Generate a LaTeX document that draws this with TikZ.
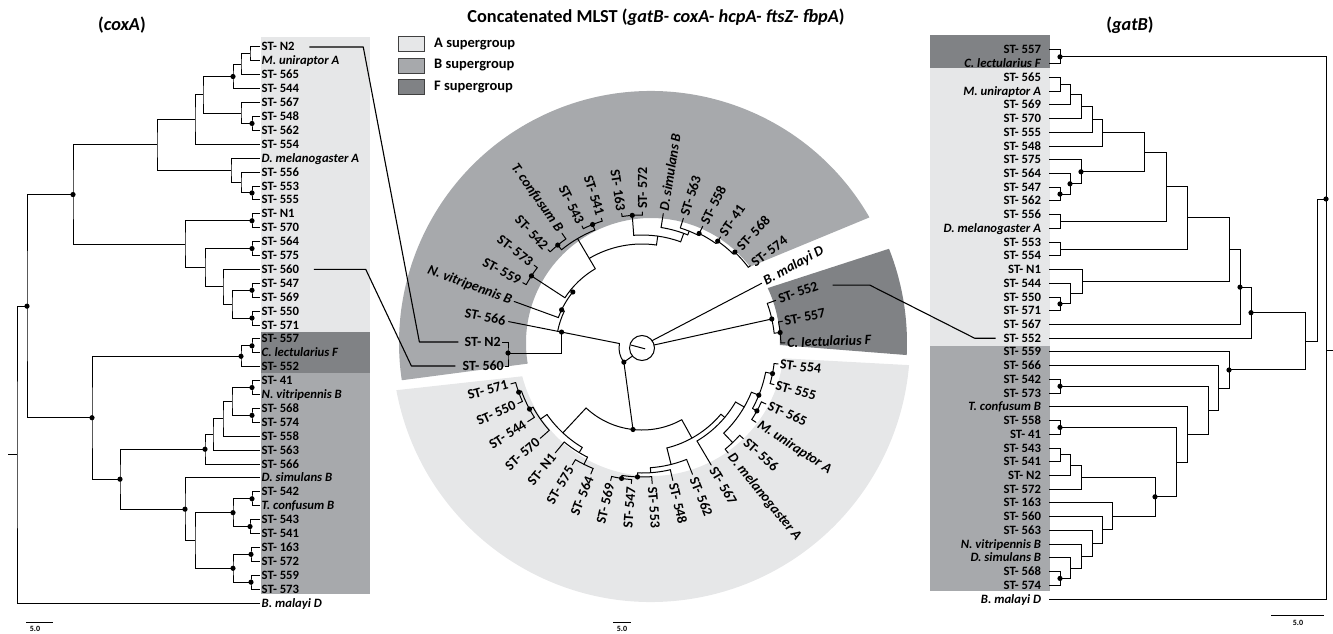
\documentclass[tikz,border=0pt]{standalone}
\usepackage{fontspec}
\setmainfont{Carlito}
\usetikzlibrary{calc}
\definecolor{grpA}{HTML}{E6E7E8}
\definecolor{grpB}{HTML}{A7A9AC}
\definecolor{grpF}{HTML}{808285}
% rectangular clade: name, x, child 1, child 2
\newcommand\clade[4]{%
  \path let \p1=($(#3)!.5!(#4)$) in coordinate (#1) at (#2pt,\y1);
  \draw[br] (#3) -| (#1) |- (#4);}
\newcommand\tdot[1]{\fill (#1) circle (2.6pt);}
% polar helpers round the centre C
\newcommand\parc[3]{\draw[cbr] ($(C)+(#1:#3pt)$) arc[start angle=#1, end angle=#2, radius=#3pt];}
\newcommand\prad[3]{\draw[cbr] ($(C)+(#1:#2pt)$) -- ($(C)+(#1:#3pt)$);}
\newcommand\pdot[2]{\fill ($(C)+(#1:#2pt)$) circle (2.6pt);}

\begin{document}
\begin{tikzpicture}[x=1pt,y=-1pt,
  br/.style={line width=1pt},
  cbr/.style={line width=1pt,line cap=round},
  link/.style={line width=1.1pt,line join=round},
  lleaf/.style={anchor=west,inner xsep=1.5pt,inner ysep=0pt,text height=9.5pt,text depth=1.5pt,
                font=\fontsize{12.7}{13}\selectfont\bfseries},
  rleaf/.style={anchor=east,inner xsep=1pt,outer xsep=7pt,inner ysep=0pt,text height=9.5pt,text depth=1.5pt,
                font=\fontsize{12.7}{13}\selectfont\bfseries},
  clab/.style={inner sep=1pt,font=\fontsize{14}{14}\selectfont\bfseries},
  ttl/.style={inner sep=0pt,font=\fontsize{18.3}{20}\selectfont\bfseries},
  legbox/.style={draw=black!75,line width=0.6pt,minimum width=26pt,minimum height=15pt,inner sep=0pt},
  legtxt/.style={anchor=west,inner sep=0pt,font=\fontsize{14.5}{15}\selectfont\bfseries},
  sbar/.style={inner sep=0pt,font=\fontsize{8}{8}\selectfont\bfseries}
]
\useasboundingbox (0,0) rectangle (1333,634);

% ---------- titles and legend
\node[ttl] (tcox) at (122,25) {(\textit{coxA})};
\node[ttl] (tgat) at (1130,25) {(\textit{gatB})};
\node[ttl] (tmlst) at (656,17) {Concatenated MLST (\textit{gatB- coxA- hcpA- ftsZ- fbpA})};
\foreach \g/\lab/\yy in {grpA/A supergroup/44, grpB/B supergroup/65.5, grpF/F supergroup/87}{
  \node[legbox,fill=\g] (k\g) at (411,\yy) {};
  \node[legtxt] (t\g) at (434,\yy) {\lab};
}

% ---------- background bands
\fill[grpA] (261,37) rectangle (370,332);
\fill[grpF] (261,332) rectangle (370,373);
\fill[grpB] (261,373) rectangle (370,594);
\fill[grpF] (930,35) rectangle (1050,68);
\fill[grpA] (930,68) rectangle (1050,346);
\fill[grpB] (930,346) rectangle (1050,591);
\coordinate (C) at (642,348);
\coordinate (O) at (651,343);
\fill[grpB] ($(O)+(29.9:252pt)$) arc[start angle=29.9,end angle=188.5,radius=252pt]
  -- ($(O)+(189.5:125pt)$) arc[start angle=189.5,end angle=37.6,radius=125pt] -- cycle;
\fill[grpF] ($(O)+(-2.7:256pt)$) arc[start angle=-2.7,end angle=21.6,radius=256pt]
  -- ($(O)+(25.2:129pt)$) arc[start angle=25.2,end angle=-0.9,radius=129pt] -- cycle;
\fill[grpA] ($(O)+(-169.5:259pt)$) arc[start angle=-169.5,end angle=-4.9,radius=259pt]
  -- ($(O)+(-6.6:133pt)$) arc[start angle=-6.6,end angle=-165.5,radius=133pt] -- cycle;

% ---------- coxA tree
\foreach \nm/\lab [count=\i] in {N2/ST- N2, Muni/\textit{M. uniraptor A}, 565/ST- 565, 544/ST- 544,
  567/ST- 567, 548/ST- 548, 562/ST- 562, 554/ST- 554, Dmel/\textit{D. melanogaster A}, 556/ST- 556,
  553/ST- 553, 555/ST- 555, N1/ST- N1, 570/ST- 570, 564/ST- 564, 575/ST- 575, 560/ST- 560,
  547/ST- 547, 569/ST- 569, 550/ST- 550, 571/ST- 571, 557/ST- 557, Clect/\textit{C. lectularius F},
  552/ST- 552, 41/ST- 41, Nvit/\textit{N. vitripennis B}, 568/ST- 568, 574/ST- 574, 558/ST- 558,
  563/ST- 563, 566/ST- 566, Dsim/\textit{D. simulans B}, 542/ST- 542, Tconf/\textit{T. confusum B},
  543/ST- 543, 541/ST- 541, 163/ST- 163, 572/ST- 572, 559/ST- 559, 573/ST- 573, Bmal/\textit{B. malayi D}}
  {\node[lleaf] (c\nm) at (260,{47+(\i-1)*13.9}) {\lab};}
\clade{n1}{250}{cN2}{cMuni}
\clade{n2}{241}{n1}{c565}
\clade{n3}{233}{n2}{c544}
\clade{n4b}{252}{c548}{c562}
\clade{n4}{241}{c567}{n4b}
\clade{n6}{203}{n3}{n4}
\clade{a1a}{195}{n6}{c554}
\clade{n7}{252}{c553}{c555}
\clade{n8}{241}{c556}{n7}
\clade{a1b}{231}{cDmel}{n8}
\clade{a1}{157}{a1a}{a1b}
\clade{n9}{252}{cN1}{c570}
\clade{n10}{252}{c564}{c575}
\clade{n11}{252}{c547}{c569}
\clade{n12}{252}{c550}{c571}
\clade{n13}{232}{n11}{n12}
\clade{n14}{223}{c560}{n13}
\clade{n15}{205}{n10}{n14}
\clade{a2}{185}{n9}{n15}
\clade{aa}{73}{a1}{a2}
\clade{f1}{252}{c557}{cClect}
\clade{f0}{241}{f1}{c552}
\clade{b1}{252}{c41}{cNvit}
\clade{b2}{252}{c568}{c574}
\clade{b3}{232}{b1}{b2}
\clade{b4}{223}{b3}{c558}
\clade{b5}{213}{b4}{c563}
\clade{b6}{205}{b5}{c566}
\clade{b7}{252}{c542}{cTconf}
\clade{b8}{250}{c543}{c541}
\clade{b9}{233}{b7}{b8}
\clade{b10}{251}{c163}{c572}
\clade{b11}{251}{c559}{c573}
\clade{b12}{233}{b10}{b11}
\clade{b13}{195}{b9}{b12}
\clade{b14}{185}{cDsim}{b13}
\clade{bb}{120}{b6}{b14}
\clade{bf}{92}{f0}{bb}
\clade{x0}{27}{aa}{bf}
\clade{rt}{17}{x0}{cBmal}
\draw[br] (rt) -- ++(-9,0);
\foreach \p in {n3,n4b,aa,n7,n9,n10,n11,n12,x0,f1,f0,bf,b1,b2,b6,bb,b7,b8,b9,b10,b11,b12,b14}
  {\tdot{\p}}

% ---------- gatB tree
\foreach \nm/\lab [count=\i] in {557/ST- 557, Clect/\textit{C. lectularius F}, 565/ST- 565,
  Muni/\textit{M. uniraptor A}, 569/ST- 569, 570/ST- 570, 555/ST- 555, 548/ST- 548, 575/ST- 575,
  564/ST- 564, 547/ST- 547, 562/ST- 562, 556/ST- 556, Dmel/\textit{D. melanogaster A}, 553/ST- 553,
  554/ST- 554, N1/ST- N1, 544/ST- 544, 550/ST- 550, 571/ST- 571, 567/ST- 567, 552/ST- 552,
  559/ST- 559, 566/ST- 566, 542/ST- 542, 573/ST- 573, Tconf/\textit{T. confusum B}, 558/ST- 558,
  41/ST- 41, 543/ST- 543, 541/ST- 541, N2/ST- N2, 572/ST- 572, 163/ST- 163, 560/ST- 560,
  563/ST- 563, Nvit/\textit{N. vitripennis B}, Dsim/\textit{D. simulans B}, 568/ST- 568,
  574/ST- 574, Bmal/\textit{B. malayi D}}
  {\node[rleaf] (g\nm) at (1049,{50+(\i-1)*13.725}) {\lab};}
\clade{h1}{1060}{g557}{gClect}
\clade{h2}{1060}{g565}{gMuni}
\clade{h3}{1070}{h2}{g569}
\clade{h4}{1081}{h3}{g570}
\clade{h5}{1092}{h4}{g555}
\clade{h6}{1102}{h5}{g548}
\clade{h7}{1060}{g547}{g562}
\clade{h8}{1070}{g564}{h7}
\clade{h9}{1081}{g575}{h8}
\clade{h10}{1144}{h6}{h9}
\clade{h11}{1060}{g556}{gDmel}
\clade{h12}{1166}{h10}{h11}
\clade{h13}{1060}{g553}{g554}
\clade{h14}{1187}{h12}{h13}
\clade{h15}{1060}{g550}{g571}
\clade{h16}{1070}{g544}{h15}
\clade{h17}{1082}{gN1}{h16}
\clade{h18}{1229}{h14}{h17}
\clade{h19}{1240}{h18}{g567}
\clade{h20}{1251}{h19}{g552}
\clade{k1}{1060}{g542}{g573}
\clade{k2}{1060}{g558}{g41}
\clade{k3}{1060}{g543}{g541}
\clade{k4}{1070}{k3}{gN2}
\clade{k5}{1081}{k4}{g572}
\clade{k6}{1060}{g568}{g574}
\clade{k7}{1070}{gDsim}{k6}
\clade{k8}{1081}{gNvit}{k7}
\clade{k9}{1092}{g563}{k8}
\clade{k10}{1102}{g560}{k9}
\clade{k11}{1112}{g163}{k10}
\clade{k12}{1155}{k5}{k11}
\clade{k13}{1176}{k2}{k12}
\clade{k14}{1187}{gTconf}{k13}
\clade{k15}{1208}{k1}{k14}
\clade{k16}{1218}{g566}{k15}
\clade{k17}{1229}{g559}{k16}
\clade{j1}{1305}{h20}{k17}
\clade{r2}{1326}{h1}{gBmal}
\coordinate (rk) at (1317,199);
\coordinate (rd) at (1326,199);
\coordinate (rs) at (1326,350);
\draw[br] (j1) -| (rk) -- (rd);
\draw[br] (rs) -- ++(8,0);
\foreach \p in {h1,h7,h8,h9,h15,h19,h20,k1,k2,k6,k12,k17,rd}
  {\tdot{\p}}

% ---------- concatenated MLST, circular tree
\draw[cbr] (C) circle (12.5pt);
\draw[cbr] ($(C)+(165:11pt)$) -- ($(C)+(-15:3pt)$);
\coordinate (AB) at ($(C)+(-142:23pt)$);
\coordinate (Ar) at ($(C)+(-96.3:82pt)$);
\coordinate (Bn) at ($(C)+(168.8:82pt)$);
\coordinate (Fn) at ($(C)+(12.6:133pt)$);
\draw[cbr] ($(C)+(-140:12.5pt)$) -- (AB) -- (Ar);
\draw[cbr] (AB) arc[start angle=218,end angle=168.8,radius=23pt] -- (Bn);
\draw[cbr] ($(C)+(36:12.5pt)$) -- ($(C)+(28.4:136pt)$);
\draw[cbr] ($(C)+(14:12.5pt)$) -- (Fn);
\tdot{AB} \tdot{Ar} \tdot{Bn} \tdot{Fn}
% F
\parc{19.6}{6.4}{133} \prad{19.6}{133}{142}
\prad{6.4}{133}{139} \pdot{6.4}{139}
\parc{10.8}{2.1}{139} \prad{10.8}{139}{143} \prad{2.1}{139}{143}
% B
\node[clab,anchor=east] (zN2) at (502,342) {ST- N2};
\node[clab,anchor=east] (z560) at (505,366) {ST- 560};
\coordinate (Pq) at (508,353);
\draw[br] (zN2.east) -| (Pq) |- (z560.east);
\draw[br] (Bn) |- (Pq);
\tdot{Pq}
\prad{168.8}{82}{136} \parc{168.8}{154.6}{86}
\prad{154.6}{86}{89} \pdot{154.6}{89}
\parc{160}{141}{89} \prad{160}{89}{136}
\prad{141}{89}{92} \pdot{141}{89}
\parc{146.9}{120.5}{92}
\prad{146.9}{92}{132} \pdot{146.9}{132}
\parc{151.3}{142.5}{132} \prad{151.3}{132}{136} \prad{142.5}{132}{136}
\prad{120.5}{92}{127} \parc{120.5}{82}{104}
\parc{129.3}{111.8}{127}
\prad{129.3}{127}{133} \pdot{129.3}{133}
\parc{133.7}{124.9}{133} \prad{133.7}{133}{136} \prad{124.9}{133}{140}
\prad{111.8}{127}{133} \pdot{111.8}{133}
\parc{116.2}{107.4}{133} \prad{116.2}{133}{136} \prad{107.4}{133}{136}
\prad{82}{104}{113} \parc{94.2}{70}{113}
\prad{94.2}{113}{133} \pdot{94.2}{133}
\parc{98.6}{89.8}{133} \prad{98.6}{133}{136} \prad{89.8}{133}{136}
\prad{70}{113}{122} \parc{81}{68}{122} \prad{81}{122}{136}
\prad{68}{122}{126} \parc{72.3}{63.5}{126} \prad{72.3}{126}{136}
\prad{63.5}{126}{136} \pdot{63.5}{128}
\parc{63.5}{54.7}{128} \prad{54.7}{128}{136} \pdot{54.7}{131}
\parc{54.7}{45.9}{131} \prad{45.9}{131}{136} \pdot{45.9}{133.5}
\parc{45.9}{37.2}{133.5} \prad{37.2}{133.5}{136}
% A
\parc{-133}{-61}{82}
\prad{-133}{82}{116} \parc{-145}{-121}{116}
\prad{-145}{116}{124} \parc{-138.4}{-151.5}{124} \prad{-138.4}{124}{136}
\prad{-151.5}{124}{128} \pdot{-151.5}{128}
\parc{-147.2}{-160.3}{128} \prad{-147.2}{128}{136}
\prad{-160.3}{128}{131} \pdot{-160.3}{131}
\parc{-155.9}{-164.7}{131} \prad{-155.9}{131}{136} \prad{-164.7}{131}{136}
\prad{-121}{116}{122} \parc{-129.6}{-116.5}{122} \prad{-129.6}{122}{136}
\prad{-116.5}{122}{130} \parc{-120.8}{-112.1}{130} \prad{-120.8}{130}{136} \prad{-112.1}{130}{136}
\prad{-61}{82}{103} \parc{-76}{-40}{103}
\prad{-76}{103}{120} \parc{-68.2}{-86}{120} \prad{-68.2}{120}{136}
\prad{-86}{120}{125} \parc{-76.9}{-92}{125} \prad{-76.9}{125}{136}
\prad{-92}{125}{129} \pdot{-92}{129}
\parc{-85.7}{-98.9}{129} \prad{-85.7}{129}{136}
\prad{-98.9}{129}{132} \pdot{-98.9}{132}
\parc{-94.5}{-103.3}{132} \prad{-94.5}{132}{136} \prad{-103.3}{132}{136}
\prad{-40}{103}{108} \parc{-59.4}{-30}{108} \prad{-59.4}{108}{136}
\prad{-30}{108}{118} \parc{-46.2}{-22}{118}
\prad{-46.2}{118}{131} \parc{-41.8}{-50.6}{131} \prad{-41.8}{131}{136} \prad{-50.6}{131}{136}
\prad{-22}{118}{126} \pdot{-22}{126}
\parc{-28.7}{-11.1}{126}
\prad{-28.7}{126}{131} \pdot{-28.7}{131}
\parc{-24.3}{-33.1}{131} \prad{-24.3}{131}{136} \prad{-33.1}{131}{136}
\prad{-11.1}{126}{133} \pdot{-11.1}{133}
\parc{-6.7}{-15.5}{133} \prad{-6.7}{133}{137} \prad{-15.5}{133}{137}
% leaf labels
\foreach \nm/\ang/\lab in {572/89.8/ST- 572, Dsim/81/\textit{D. simulans B}, 563/72.3/ST- 563,
  558/63.5/ST- 558, 41/54.7/ST- 41, 568/45.9/ST- 568, 574/37.2/ST- 574, Bmal/28.4/\textit{B. malayi D},
  554/-6.7/ST- 554, 555/-15.5/ST- 555, 565/-24.3/ST- 565, Muni/-33.1/\textit{M. uniraptor A},
  556/-41.8/ST- 556, Dmel/-50.6/\textit{D. melanogaster A}, 567/-59.4/ST- 567, 562/-68.2/ST- 562,
  548/-76.9/ST- 548, 553/-85.7/ST- 553}
  {\node[clab,anchor=west,rotate=\ang] (z\nm) at ($(C)+(\ang:138pt)$) {\lab};}
\foreach \nm/\ang/\lab in {552/19.6/ST- 552, 557/10.8/ST- 557, Clect/2.1/\textit{C. lectularius F}}
  {\node[clab,anchor=west,rotate=\ang] (z\nm) at ($(C)+(\ang:144pt)$) {\lab};}
\foreach \nm/\ang/\lab in {547/-94.5/ST- 547, 569/-103.3/ST- 569, 564/-112.1/ST- 564,
  575/-120.8/ST- 575, N1/-129.6/ST- N1, 570/-138.4/ST- 570, 544/-147.2/ST- 544, 550/-155.9/ST- 550,
  571/-164.7/ST- 571, 566/168.8/ST- 566, Nvit/160/\textit{N. vitripennis B}, 559/151.3/ST- 559,
  573/142.5/ST- 573, 542/133.7/ST- 542, 543/116.2/ST- 543, 541/107.4/ST- 541, 163/98.6/ST- 163}
  {\node[clab,anchor=east,rotate=\ang-180] (z\nm) at ($(C)+(\ang:138pt)$) {\lab};}
\node[clab,anchor=east,rotate=-55.1] (zTconf) at ($(C)+(124.9:142pt)$) {\textit{T. confusum B}};

% ---------- links between the trees
\draw[link] ([xshift=13pt]cN2.east) -- ++(54,0) -- ($(zN2.west)+(-44,0)$) -- ([xshift=-5pt]zN2.west);
\draw[link] ([xshift=13pt]c560.east) -- ++(52,0) -- ($(z560.west)+(-50,0)$) -- ([xshift=-6pt]z560.west);
\draw[link] ($(z552.east)+(14,0)$) -- ++(37,0) -- ($(g552.west)+(-21,0)$) -- (g552.west);

% ---------- scale bars
\draw[line width=0.8pt] (26,622) -- (53,622);
\node[sbar] (s1) at (35,629) {5.0};
\draw[line width=0.8pt] (613,622) -- (631,622);
\node[sbar] (s2) at (622,629) {5.0};
\draw[line width=0.8pt] (1271,615) -- (1324,615);
\node[sbar] (s3) at (1298,623) {5.0};
\end{tikzpicture}
\end{document}
